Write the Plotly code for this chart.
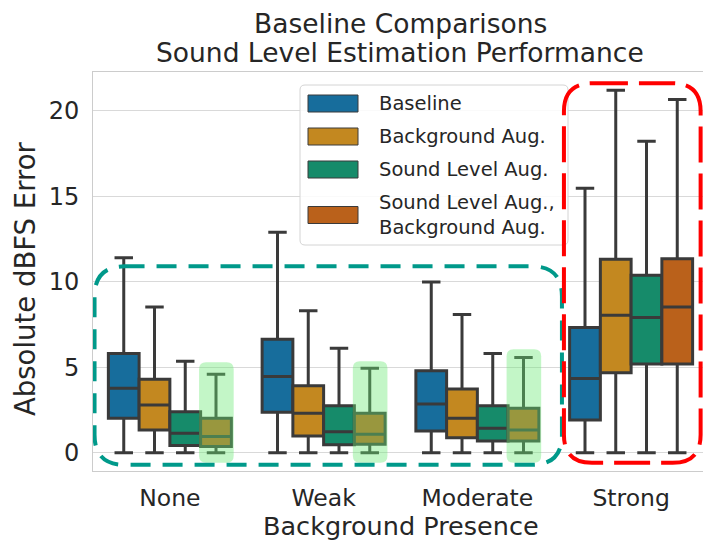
import plotly.graph_objects as go

# ---------------- data ----------------
categories = ["None", "Weak", "Moderate", "Strong"]
series_names = ["Baseline", "Background Aug.", "Sound Level Aug.",
                "Sound Level Aug., Background Aug."]
legend_labels = ["Baseline", "Background Aug.", "Sound Level Aug.",
                 "Sound Level Aug.,<br>Background Aug."]

baseline_low = [0.0, 0.0, 0.0, 0.0]
baseline_q1 = [2.02, 2.37, 1.28, 1.92]
baseline_med = [3.77, 4.47, 2.86, 4.35]
baseline_q3 = [5.81, 6.64, 4.80, 7.33]
baseline_high = [11.4, 12.9, 9.99, 15.47]

bgaug_low = [0.0, 0.0, 0.0, 0.0]
bgaug_q1 = [1.34, 0.99, 0.89, 4.68]
bgaug_med = [2.80, 2.31, 2.02, 8.05]
bgaug_q3 = [4.30, 3.92, 3.73, 11.31]
bgaug_high = [8.53, 8.30, 8.09, 21.2]

slaug_low = [0.0, 0.0, 0.0, 0.0]
slaug_q1 = [0.43, 0.48, 0.70, 5.19]
slaug_med = [1.15, 1.24, 1.44, 7.91]
slaug_q3 = [2.41, 2.76, 2.76, 10.38]
slaug_high = [5.36, 6.12, 5.81, 18.21]

both_low = [0.0, 0.0, 0.0, 0.0]
both_q1 = [0.37, 0.51, 0.70, 5.19]
both_med = [0.95, 1.09, 1.34, 8.53]
both_q3 = [2.02, 2.31, 2.61, 11.35]
both_high = [4.59, 4.94, 5.58, 20.66]

y_ticks = [0, 5, 10, 15, 20]

title_lines = ["Baseline Comparisons", "Sound Level Estimation Performance"]
x_title = "Background Presence"
y_title = "Absolute dBFS Error"

# ---------------- styling ----------------
colors = ["#176D9C", "#C38820", "#168B6A", "#BA611B"]
edge = "#3a3a3a"
font_family = "DejaVu Sans"
text_color = "#262626"

stats = [
    (baseline_low, baseline_q1, baseline_med, baseline_q3, baseline_high),
    (bgaug_low, bgaug_q1, bgaug_med, bgaug_q3, bgaug_high),
    (slaug_low, slaug_q1, slaug_med, slaug_q3, slaug_high),
    (both_low, both_q1, both_med, both_q3, both_high),
]

fig = go.Figure()
for name, col, (lo, q1, med, q3, hi) in zip(series_names, colors, stats):
    fig.add_trace(go.Box(
        x=categories, lowerfence=lo, q1=q1, median=med, q3=q3, upperfence=hi,
        name=name, fillcolor=col, line=dict(color=edge, width=3),
        whiskerwidth=0.6, boxpoints=False, showlegend=False,
        hoverinfo="skip",
    ))

# figure geometry (pixels)
W, H = 703, 542
ML, MR, MT, MB = 93, 0, 72, 71
x_range = [-0.5, 3.4675]
y_range = [-1.06, 22.26]
px_x = (W - ML - MR) / (x_range[1] - x_range[0])
px_y = (H - MT - MB) / (y_range[1] - y_range[0])


def rounded_path(x0, x1, y0, y1, r_px):
    rx, ry = r_px / px_x, r_px / px_y
    return (f"M {x0 + rx},{y1} L {x1 - rx},{y1} Q {x1},{y1} {x1},{y1 - ry} "
            f"L {x1},{y0 + ry} Q {x1},{y0} {x1 - rx},{y0} "
            f"L {x0 + rx},{y0} Q {x0},{y0} {x0},{y0 + ry} "
            f"L {x0},{y1 - ry} Q {x0},{y1} {x0 + rx},{y1} Z")


def paper_x(px):
    return (px - ML) / (W - ML - MR)


def paper_y(py):
    return (H - MB - py) / (H - MT - MB)


def rounded_paper(x0, x1, y0, y1, r):
    rx, ry = r / (W - ML - MR), r / (H - MT - MB)
    X0, X1, Y0, Y1 = paper_x(x0), paper_x(x1), paper_y(y1), paper_y(y0)
    return (f"M {X0 + rx},{Y1} L {X1 - rx},{Y1} Q {X1},{Y1} {X1},{Y1 - ry} "
            f"L {X1},{Y0 + ry} Q {X1},{Y0} {X1 - rx},{Y0} "
            f"L {X0 + rx},{Y0} Q {X0},{Y0} {X0},{Y0 + ry} "
            f"L {X0},{Y1 - ry} Q {X0},{Y1} {X0 + rx},{Y1} Z")


shapes = []
annotations = []

# titles as text annotations for exact placement
for txt, yc in zip(title_lines, [23, 52]):
    annotations.append(dict(xref="paper", yref="paper", x=paper_x(400),
                            y=paper_y(yc), xanchor="center", yanchor="middle",
                            text=txt, showarrow=False,
                            font=dict(size=26.5, color=text_color,
                                      family=font_family)))
annotations.append(dict(xref="paper", yref="paper", x=paper_x(401),
                        y=paper_y(526), xanchor="center", yanchor="middle",
                        text=x_title, showarrow=False,
                        font=dict(size=25.5, color=text_color, family=font_family)))
annotations.append(dict(xref="paper", yref="paper", x=paper_x(25),
                        y=paper_y(279), xanchor="center", yanchor="middle",
                        text=y_title, showarrow=False, textangle=-90,
                        font=dict(size=27.5, color=text_color, family=font_family)))

# custom legend (frame + patches)
shapes.append(dict(type="path", xref="paper", yref="paper",
                   path=rounded_paper(300, 568, 85, 245, 5),
                   fillcolor="rgba(255,255,255,0.85)",
                   line=dict(color="#d4d4d4", width=1)))
patch_centers = [103.5, 136.5, 169.5, 215]
for yc, col, lab in zip(patch_centers, colors, legend_labels):
    shapes.append(dict(type="rect", xref="paper", yref="paper",
                       x0=paper_x(308), x1=paper_x(358),
                       y0=paper_y(yc + 8.5), y1=paper_y(yc - 8.5),
                       fillcolor=col, line=dict(color=edge, width=1)))
    annotations.append(dict(xref="paper", yref="paper", x=paper_x(377),
                            y=paper_y(yc), xanchor="left", yanchor="middle",
                            text=lab, showarrow=False, align="left",
                            font=dict(size=19.5, color=text_color,
                                      family=font_family)))

# green highlights over the 4th box of first three groups
highlight_tops = [5.3, 5.35, 6.05]
for i, top in enumerate(highlight_tops):
    shapes.append(dict(type="path", xref="x", yref="y",
                       path=rounded_path(i + 0.19, i + 0.415, -0.58, top, 7),
                       fillcolor="rgba(105,232,115,0.40)",
                       line=dict(width=0)))

# teal dashed rounded box around None..Moderate
shapes.append(dict(type="path", xref="x", yref="y",
                   path=rounded_path(-0.49, 2.55, -0.70, 10.9, 30),
                   line=dict(color="#00998A", width=4, dash="20px,12px")))
# red dashed rounded box around Strong
shapes.append(dict(type="path", xref="x", yref="y",
                   path=rounded_path(2.563, 3.452, -0.58, 21.6, 28),
                   line=dict(color="#FF0000", width=4, dash="36px,11px")))

fig.update_layout(
    width=W, height=H,
    margin=dict(l=ML, r=MR, t=MT, b=MB, autoexpand=False),
    paper_bgcolor="white", plot_bgcolor="white",
    boxmode="group", boxgap=0.2, boxgroupgap=0.0,
    font=dict(family=font_family, color=text_color),
    xaxis=dict(type="category", categoryorder="array", categoryarray=categories,
               range=x_range, showgrid=False, zeroline=False,
               showline=True, mirror=True, linecolor="#cccccc", linewidth=1,
               ticks="", ticklabelstandoff=6,
               tickfont=dict(size=23.5, color=text_color)),
    yaxis=dict(range=y_range, tickvals=y_ticks, showgrid=True,
               gridcolor="#d9d9d9", gridwidth=1, zeroline=False,
               showline=True, linecolor="#cccccc", linewidth=1,
               ticks="", ticklabelstandoff=8,
               tickfont=dict(size=24, color=text_color)),
    shapes=shapes,
    annotations=annotations,
    showlegend=False,
)

fig.write_html("out.html",
               config={"displayModeBar": False},
               post_script="document.body.style.margin='0';"
                           "document.body.style.padding='0';")
